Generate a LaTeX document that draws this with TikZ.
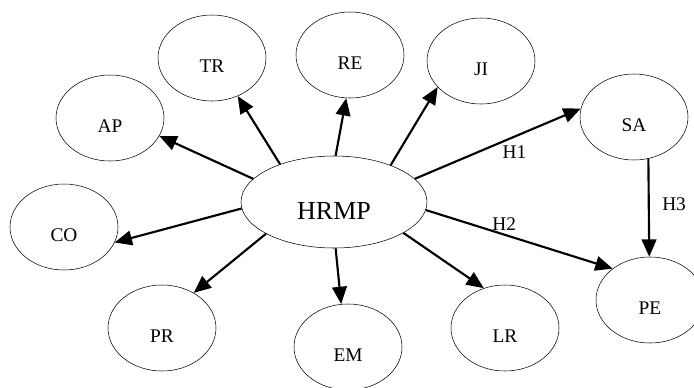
\documentclass[tikz,border=0pt]{standalone}
\usepackage{fontspec}
\setmainfont{Liberation Serif}
\usetikzlibrary{arrows.meta,shapes.geometric}
\tikzset{
    factor/.style={ellipse,draw,thin,inner sep=0pt,minimum width=81pt,minimum height=64.5pt,
        text height=21.5pt,text depth=0pt,font=\fontsize{14.5}{16}\selectfont},
    core/.style={factor,minimum width=139.5pt,minimum height=69pt,text height=26.5pt,
        font=\fontsize{19.5}{22}\selectfont},
    every edge/.style={draw,-{Triangle[length=13pt,width=11pt]},line width=1.6pt},
    hlabel/.style={font=\fontsize{14.5}{16}\selectfont},
}

\begin{document}
\begin{tikzpicture}[x=0.75pt,y=-0.75pt]
    \clip (0,0) rectangle (694,387);

    \node[core] (hrmp) at (334,202) {HRMP};
    \node[factor] (ap) at (110,118) {AP};
    \node[factor] (tr) at (212,58) {TR};
    \node[factor] (re) at (350,55) {RE};
    \node[factor] (ji) at (481,61) {JI};
    \node[factor] (sa) at (634,117) {SA};
    \node[factor] (co) at (64,227) {CO};
    \node[factor] (pr) at (162,328) {PR};
    \node[factor] (em) at (348,347) {EM};
    \node[factor] (lr) at (505,328) {LR};
    \node[factor] (pe) at (650,300) {PE};

    \path
    (hrmp.164) edge (ap.340)
    (hrmp.145) edge (tr.304)
    (hrmp.88) edge (re.265)
    (hrmp.33) edge (ji.211)
    (hrmp.16) edge node[hlabel,pos=0.6,below=3pt] {H1} (sa.171)
    (hrmp.184) edge (co.343)
    (hrmp.205) edge (pr.48)
    (hrmp.272) edge (em.99)
    (hrmp.336) edge (lr.118)
    (hrmp.355) edge node[hlabel,pos=0.42,above=-1pt] {H2} (pe.140)
    (sa.289) edge node[hlabel,pos=0.46,right=6pt] {H3} (pe.91);
\end{tikzpicture}
\end{document}
